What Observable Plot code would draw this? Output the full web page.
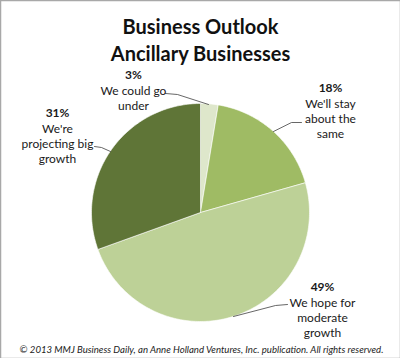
<!DOCTYPE html>
<html>
<head>
<meta charset="utf-8">
<script src="https://cdn.jsdelivr.net/npm/d3@7"></script>
<script src="https://cdn.jsdelivr.net/npm/@observablehq/plot@0.6"></script>
<style>
  html, body { margin: 0; padding: 0; background: #fff; }
  #chart svg { display: block; }
</style>
</head>
<body>
<div id="chart"></div>
<script>
// ---- data ----
const categories = ["We could go under", "We'll stay about the same", "We hope for moderate growth", "We're projecting big growth"];
const values = [2.6, 18, 48.9, 30.5];
const percentLabels = ["3%", "18%", "49%", "31%"];
const descLabels = ["We could go\nunder", "We'll stay\nabout the\nsame", "We hope for\nmoderate\ngrowth", "We're\nprojecting big\ngrowth"];
const colors = ["#dee7cb", "#9fbb64", "#bdd197", "#5f7537"];
const titleLines = ["Business Outlook", "Ancillary Businesses"];
const footer = "© 2013 MMJ Business Daily, an Anne Holland Ventures, Inc. publication. All rights reserved.";

// ---- layout ----
const W = 400, H = 358;
const cx = 200, cy = 212, R = 109;
const labelPos = [[133, 75], [330, 88], [322, 287], [57, 113]];
const leaderPts = [
  [[165, 93], [177, 94], [208, 104]],
  [[301, 122], [291, 122], [273, 131]],
  [[287, 304], [275, 305], [233, 316]],
  [[94, 146], [101, 147], [110, 151]]
];

// ---- slice geometry via d3.pie ----
const arcs = d3.pie().sort(null).value(d => d)(values);
const slicePts = [];
arcs.forEach((a, i) => {
  const cat = categories[i];
  slicePts.push({cat, x: cx, y: cy});
  const steps = Math.max(2, Math.ceil((a.endAngle - a.startAngle) / (Math.PI / 180)));
  for (let k = 0; k <= steps; k++) {
    const t = a.startAngle + (a.endAngle - a.startAngle) * k / steps;
    slicePts.push({cat, x: cx + R * Math.sin(t), y: cy - R * Math.cos(t)});
  }
  slicePts.push({cat, x: cx, y: cy});
});

const leaders = [];
leaderPts.forEach((pts, i) => pts.forEach(p => leaders.push({cat: categories[i], x: p[0], y: p[1]})));

const labels = categories.map((c, i) => ({cat: c, pct: percentLabels[i], desc: descLabels[i], x: labelPos[i][0], y: labelPos[i][1]}));

const font = "Lato, 'Open Sans', sans-serif";

const chart = Plot.plot({
  width: W, height: H,
  margin: 0,
  x: {domain: [0, W], range: [0, W], axis: null},
  y: {domain: [0, H], range: [0, H], axis: null},
  color: {domain: categories, range: colors},
  style: {fontFamily: font, background: "#fff"},
  marks: [
    Plot.line(slicePts, {x: "x", y: "y", z: "cat", fill: "cat", stroke: "#ffffff", strokeWidth: 0.6, curve: "linear"}),
    Plot.line(leaders, {x: "x", y: "y", z: "cat", stroke: "#404040", strokeWidth: 0.8}),
    Plot.text(labels, {x: "x", y: "y", text: "pct", fontWeight: "bold", fontSize: 12, fill: "#1a1a1a"}),
    Plot.text(labels, {x: "x", y: d => d.y + 16, text: "desc", fontSize: 12, lineHeight: 1.25, lineAnchor: "top", dy: -7, fill: "#1a1a1a"}),
    Plot.text(titleLines, {x: W / 2, y: (d, i) => 27 + i * 27, text: d => d, fontSize: 20, fontWeight: "bold", fill: "#111"}),
    Plot.text([footer], {x: 201, y: 349, text: d => d, fontSize: 9.6, fontStyle: "italic", fill: "#222"}),
    Plot.frame({stroke: "#a8a8a8", strokeWidth: 1.5})
  ]
});
document.getElementById("chart").append(chart);
</script>
</body>
</html>
